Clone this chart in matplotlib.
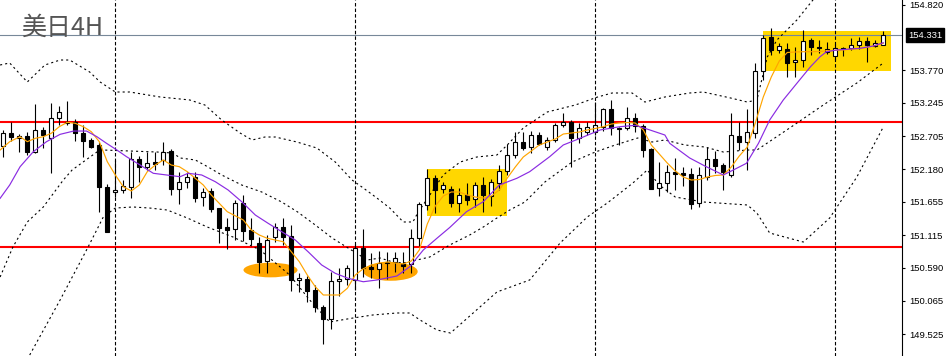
import matplotlib
matplotlib.use("Agg")
import matplotlib.pyplot as plt
from matplotlib.patches import Rectangle, Ellipse

plt.rcParams['font.family'] = ['Noto Sans CJK JP', 'DejaVu Sans']
plt.rcParams['lines.scale_dashes'] = False

title = "美日4H"

opens = [152.550, 152.758, 152.673, 152.705, 152.458, 152.807, 152.678, 152.995, 152.940, 152.943,
         152.758, 152.646, 152.566, 151.886, 151.806, 151.843, 151.896, 152.336, 152.207, 152.288,
         152.325, 152.469, 151.854, 151.966, 152.056, 151.735, 151.831, 151.549, 151.243, 151.211,
         151.629, 151.200, 150.996, 150.702, 151.092, 151.243, 151.104, 150.389, 150.413, 150.236,
         149.968, 149.778, 150.373, 150.408, 150.397, 150.916, 150.601, 150.569, 150.691, 150.681,
         150.649, 150.649, 151.067, 151.602, 152.031, 151.854, 151.854, 151.629, 151.762, 151.693,
         151.923, 151.751, 151.950, 152.143, 152.405, 152.614, 152.538, 152.726, 152.538, 152.646,
         152.887, 152.940, 152.673, 152.779, 152.779, 152.855, 153.139, 152.818, 152.834, 152.995,
         152.866, 152.509, 151.870, 151.950, 152.127, 152.111, 152.095, 151.629, 152.056, 152.336,
         152.244, 152.084, 152.710, 152.619, 152.763, 153.754, 154.296, 154.087, 154.103, 153.891,
         153.931, 154.252, 154.140, 154.055, 153.991, 154.129, 154.129, 154.167, 154.244, 154.164,
         154.180]
highs = [152.807, 152.935, 152.742, 152.774, 153.224, 152.847, 153.236, 153.200, 153.277, 152.983,
         152.887, 152.673, 152.619, 151.939, 152.325, 152.003, 152.453, 152.389, 152.461, 152.453,
         152.606, 152.501, 152.132, 152.132, 152.124, 151.875, 151.867, 151.558, 151.393, 151.682,
         151.762, 151.388, 151.092, 151.120, 151.313, 151.388, 151.280, 150.504, 150.461, 150.316,
         149.995, 150.525, 150.582, 150.643, 150.975, 151.216, 150.826, 150.858, 150.842, 150.842,
         150.842, 151.224, 151.655, 152.180, 152.084, 151.971, 151.899, 151.870, 151.950, 151.966,
         152.056, 152.027, 152.244, 152.577, 152.774, 152.779, 152.795, 152.779, 152.689, 152.914,
         153.075, 152.967, 152.914, 152.940, 153.261, 153.165, 153.289, 152.855, 153.176, 153.080,
         152.895, 152.517, 152.297, 152.244, 152.352, 152.212, 152.191, 152.212, 152.538, 152.474,
         152.276, 153.075, 152.940, 153.139, 153.878, 154.333, 154.445, 154.199, 154.199, 154.145,
         154.413, 154.280, 154.252, 154.220, 154.188, 154.145, 154.280, 154.305, 154.293, 154.260,
         154.402]
lows = [152.373, 152.622, 152.458, 152.400, 152.440, 152.517, 152.111, 152.887, 152.887, 152.630,
        152.365, 152.513, 151.494, 151.160, 151.735, 151.799, 151.709, 151.971, 152.164, 152.164,
        152.244, 151.770, 151.613, 151.870, 151.655, 151.581, 151.489, 150.999, 150.895, 151.039,
        151.023, 150.959, 150.504, 150.504, 151.012, 150.959, 150.225, 150.204, 150.048, 149.887,
        149.361, 149.602, 150.140, 150.316, 150.236, 150.450, 150.434, 150.263, 150.408, 150.530,
        150.504, 150.514, 150.943, 151.521, 151.481, 151.795, 151.574, 151.489, 151.602, 151.574,
        151.494, 151.586, 151.843, 152.084, 152.349, 152.485, 152.432, 152.566, 152.485, 152.619,
        152.860, 152.217, 152.593, 152.726, 152.726, 152.791, 152.726, 152.566, 152.807, 152.779,
        152.378, 151.851, 151.746, 151.816, 151.843, 151.907, 151.537, 151.570, 152.003, 152.121,
        151.843, 152.056, 152.485, 152.164, 152.673, 153.610, 154.011, 154.039, 153.663, 153.650,
        153.823, 154.011, 154.039, 154.028, 153.931, 153.995, 154.092, 154.108, 153.891, 154.140,
        154.172]
closes = [152.758, 152.690, 152.710, 152.458, 152.802, 152.731, 152.995, 153.091, 152.919, 152.758,
          152.630, 152.538, 151.883, 151.163, 151.838, 151.907, 152.341, 152.217, 152.272, 152.260,
          152.453, 151.851, 151.966, 152.056, 151.719, 151.811, 151.537, 151.240, 151.200, 151.629,
          151.189, 151.051, 150.691, 151.039, 151.243, 151.092, 150.389, 150.424, 150.225, 149.958,
          149.778, 150.381, 150.418, 150.585, 150.906, 150.594, 150.578, 150.670, 150.665, 150.745,
          150.627, 151.067, 151.613, 152.031, 151.843, 151.923, 151.629, 151.762, 151.682, 151.923,
          151.762, 151.966, 152.148, 152.405, 152.614, 152.522, 152.726, 152.577, 152.646, 152.887,
          152.940, 152.673, 152.834, 152.860, 152.887, 153.139, 152.834, 152.834, 152.995, 152.866,
          152.493, 151.864, 151.950, 152.127, 152.095, 152.084, 151.618, 152.084, 152.336, 152.228,
          152.137, 152.726, 152.619, 152.770, 153.754, 154.280, 154.092, 154.151, 153.888, 153.931,
          154.244, 154.132, 154.116, 154.100, 154.119, 154.108, 154.172, 154.244, 154.172, 154.204,
          154.331]

# fast moving average (orange)
orange_idx = [-0.4, 0.8, 2.1, 3, 4, 5, 6, 7, 8, 9, 10, 11, 12, 13, 14, 15, 16, 17, 18, 19, 20, 21, 22, 23,
              25, 26, 28, 30, 31, 32, 33, 34, 35, 36, 37, 38, 39, 40, 41, 42, 43, 44, 45, 46, 47, 48, 49,
              50, 51, 52, 53, 54, 55, 56, 57, 58, 59, 60, 61, 62, 63, 64, 65, 66, 67, 68, 69, 70, 71, 72,
              73, 74, 75, 76, 77, 78, 79, 80, 81, 82, 83, 84, 85, 86, 87, 88, 89, 90, 91, 92, 93, 94, 95,
              96, 97, 98, 99, 100, 101, 102, 103, 104, 105, 106, 107, 108, 109, 110]
orange_val = [152.485, 152.619, 152.699, 152.619, 152.673, 152.699, 152.754, 152.860, 152.930, 152.914,
              152.860, 152.779, 152.619, 152.297, 152.084, 151.896, 151.827, 151.923, 152.137, 152.244,
              152.325, 152.244, 152.217, 152.137, 151.923, 151.762, 151.494, 151.361, 151.200, 151.120,
              151.067, 151.039, 151.012, 150.851, 150.691, 150.477, 150.289, 150.156, 150.156, 150.156,
              150.263, 150.477, 150.578, 150.638, 150.670, 150.686, 150.670, 150.654, 150.702, 150.879,
              151.296, 151.586, 151.746, 151.811, 151.811, 151.762, 151.730, 151.714, 151.746, 151.843,
              152.035, 152.212, 152.373, 152.469, 152.566, 152.614, 152.662, 152.742, 152.758, 152.774,
              152.807, 152.831, 152.860, 152.903, 152.919, 152.927, 152.919, 152.807, 152.566, 152.421,
              152.276, 152.148, 152.051, 152.003, 152.011, 152.051, 152.076, 152.084, 152.212, 152.389,
              152.533, 152.919, 153.337, 153.658, 153.915, 154.052, 154.060, 154.064, 154.064, 154.068,
              154.080, 154.087, 154.092, 154.105, 154.116, 154.135, 154.164, 154.199]

# slow moving average (purple)
purple_idx = [-0.4, 0.8, 2.1, 3.75, 5.4, 7.1, 8.8, 10.4, 11.7, 12.9, 14.2, 15.4, 17.1, 18.75, 20.4, 22.1,
              23.1, 24.8, 26.5, 28.1, 29.8, 31.5, 33.1, 34.8, 36.5, 38.1, 39.8, 41.5, 43.1, 45, 46.7,
              49.2, 50.8, 52.5, 54.2, 55.8, 57.9, 60, 62, 64.2, 65.8, 68.3, 70, 72.1, 74.6, 77.1, 79,
              80.2, 82.7, 83.3, 85.8, 87.7, 90, 91.25, 92.9, 94.4, 95.8, 97.5, 99.2, 100.9, 102.1, 102.9,
              104.2, 107.1, 108.75, 110]
purple_val = [151.709, 151.923, 152.217, 152.458, 152.619, 152.737, 152.790, 152.790, 152.699, 152.593,
              152.485, 152.378, 152.244, 152.111, 152.084, 152.056, 152.111, 152.084, 151.976, 151.843,
              151.655, 151.441, 151.308, 151.173, 151.039, 150.851, 150.638, 150.504, 150.424, 150.369,
              150.397, 150.461, 150.610, 150.879, 151.067, 151.240, 151.494, 151.655, 151.923, 152.031,
              152.137, 152.378, 152.566, 152.673, 152.807, 152.860, 152.882, 152.834, 152.726, 152.593,
              152.357, 152.228, 152.084, 152.164, 152.272, 152.593, 152.967, 153.289, 153.557, 153.823,
              153.984, 154.064, 154.092, 154.119, 154.156, 154.209]

# Bollinger-type dotted lines
bb_up_idx = [-0.4, 0.8, 3.0, 5.2, 7.1, 8.3, 10.8, 12.1, 14.0, 15.8, 19.6, 23.3, 25.2, 27.3, 29.6, 31.1,
             32.7, 34.0, 36.7, 39.2, 41.5, 43.6, 45.0, 46.7, 48.3, 50.0, 51.2, 51.8, 55.0, 57.1, 59.2,
             61.7, 63.0, 65.0, 68.0, 71.5, 74.3, 76.1, 78.6, 80.2, 82.7, 85.8, 87.5, 89.2, 90.9, 93.0,
             94.2, 95.5, 96.7, 99.2, 101.2, 104, 110]
bb_up_val = [153.851, 153.883, 153.578, 153.851, 153.931, 153.931, 153.738, 153.578, 153.417, 153.417,
             153.337, 153.289, 153.208, 152.967, 152.758, 152.646, 152.694, 152.694, 152.614, 152.517,
             152.292, 152.003, 151.875, 151.714, 151.554, 151.329, 151.329, 151.473, 152.084, 152.292,
             152.373, 152.405, 152.566, 152.839, 153.096, 153.208, 153.337, 153.401, 153.401, 153.256,
             153.337, 153.401, 153.417, 153.369, 153.321, 153.256, 153.289, 153.979, 154.252, 154.574,
             154.895, 155.200, 155.300]
bb_mid_idx = [-0.4, 1.2, 3.0, 5.0, 7.5, 8.6, 11.7, 12.5, 19.2, 21.2, 22.1, 24.0, 25.6, 27.3, 29.8, 32.3,
              34.8, 36.8, 39.0, 41.1, 43.1, 44.3, 45.5, 47.1, 48.7, 50.0, 51.7, 53.3, 55.8, 58.3, 60.0,
              61.7, 63.3, 65.2, 67.7, 71.1, 74.0, 76.5, 79.3, 81.1, 82.7, 85.2, 87.7, 90.0, 93.0, 94.2,
              98.3, 102.5, 106.7, 110.0]
bb_mid_val = [150.445, 150.927, 151.329, 151.570, 152.003, 152.164, 152.453, 152.485, 152.453, 152.437,
              152.357, 152.325, 152.212, 152.084, 151.923, 151.811, 151.650, 151.489, 151.280, 151.072,
              150.911, 150.815, 150.718, 150.750, 150.686, 150.670, 150.718, 150.766, 150.959, 151.120,
              151.248, 151.393, 151.521, 151.650, 151.971, 152.292, 152.453, 152.566, 152.678, 152.614,
              152.646, 152.566, 152.533, 152.453, 152.485, 152.485, 152.839, 153.208, 153.562, 153.883]
bb_low_idx = [3.3, 7.1, 10.6, 12.5, 14.0, 16.2, 18.3, 20.5, 23.0, 25.5, 27.1, 28.7, 32.1, 35.8, 38.3,
              40.8, 43.7, 46.2, 49.2, 50.8, 52.1, 54.2, 55.9, 61.7, 65.8, 69.6, 73.0, 75.5, 78.7, 80.5,
              82.0, 84.0, 87.5, 93.0, 94.2, 95.8, 100.0, 103.3, 106.7, 110.0]
bb_low_val = [149.192, 150.076, 150.927, 151.409, 151.553, 151.570, 151.553, 151.521, 151.393, 151.248,
              151.168, 151.088, 150.879, 150.477, 150.076, 149.722, 149.786, 149.835, 149.867, 149.867,
              149.754, 149.594, 149.545, 150.204, 150.397, 150.991, 151.409, 151.634, 151.955, 152.164,
              151.923, 151.730, 151.650, 151.602, 151.473, 151.152, 151.007, 151.393, 152.052, 152.855]

level_lines = [152.940, 150.932]
last_price = 154.331
tick_values = [154.820, 153.770, 153.245, 152.705, 152.180, 151.655, 151.115, 150.590, 150.065, 149.525]
separator_idx = [14, 44, 74, 104]

# ---------------------------------------------------------------- figure
fig = plt.figure(figsize=(9.5, 3.56), dpi=100)
fig.patch.set_facecolor('white')
ax = fig.add_axes([0, 0, 902 / 950, 1])
ax.set_facecolor('white')
ax.set_xlim(-0.4125, 112.34)
ax.set_ylim(149.176, 154.895)

# highlight objects (behind)
ax.add_patch(Rectangle((52.99, 151.430), 9.93, 0.750, facecolor='#FFD700', edgecolor='none', zorder=1))
ax.add_patch(Rectangle((94.96, 153.754), 16.0, 0.643, facecolor='#FFD700', edgecolor='none', zorder=1))
ax.add_patch(Ellipse((33.4, 150.557), 6.75, 0.235, facecolor='#FFA500', edgecolor='none', zorder=1))
ax.add_patch(Ellipse((48.4, 150.533), 6.8, 0.297, facecolor='#FFA500', edgecolor='none', zorder=1))

for lv in level_lines:
    ax.axhline(lv, color='#FF0000', lw=1.5, zorder=2)
ax.axhline(last_price, color='#778899', lw=0.8, zorder=2)
for s in separator_idx:
    ax.axvline(s, color='black', lw=0.8, linestyle=(0, (2.5, 1.5)), zorder=2)

dot = (0, (1.5, 2.2))
for xi, yi in ((bb_up_idx, bb_up_val), (bb_mid_idx, bb_mid_val), (bb_low_idx, bb_low_val)):
    ax.plot(xi, yi, color='black', lw=0.8, linestyle=dot, zorder=3)

# candles
n = len(opens)
idx = list(range(n))
ax.vlines(idx, lows, highs, color='black', lw=0.8, zorder=4)
bottoms = [min(o, c) for o, c in zip(opens, closes)]
heights = [max(abs(c - o), 0.004) for o, c in zip(opens, closes)]
colors = ['white' if c >= o else 'black' for o, c in zip(opens, closes)]
ax.bar(idx, heights, 0.5, bottoms, color=colors, edgecolor='black', linewidth=0.8, zorder=5)

ax.plot(orange_idx, orange_val, color='#FFA500', lw=0.85, zorder=6)
ax.plot(purple_idx, purple_val, color='#8A2BE2', lw=0.85, zorder=6)

# axes styling
for side in ('top', 'left', 'bottom'):
    ax.spines[side].set_visible(False)
ax.spines['right'].set_color('black')
ax.spines['right'].set_linewidth(0.8)
ax.set_xticks([])
ax.yaxis.tick_right()
ax.set_yticks(tick_values)
ax.set_yticklabels([f"{v:.3f}" for v in tick_values])
ax.tick_params(axis='y', direction='out', length=2.5, width=0.8, pad=2.5, labelsize=6.8, colors='black')
for lab in ax.get_yticklabels():
    lab.set_fontfamily('Liberation Sans')

ax.text(1.0065, last_price, f"{last_price:.3f}", transform=ax.get_yaxis_transform(), ha='left', va='center',
        color='white', fontsize=6.8, fontfamily='Liberation Sans', zorder=10,
        bbox=dict(boxstyle='square,pad=0.25', facecolor='black', edgecolor='black'))

fig.text(21 / 950, 1 - 35 / 356, title, fontsize=18, color='#555555', va='baseline', ha='left')

fig.savefig('out.png', dpi=100, facecolor='white')
